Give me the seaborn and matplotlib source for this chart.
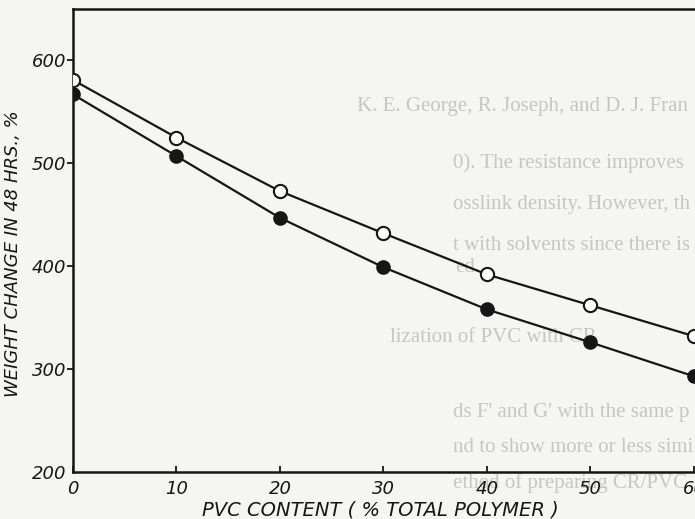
import matplotlib
matplotlib.use("Agg")
import matplotlib.pyplot as plt
import seaborn as sns
import pandas as pd

# ---- data ----
pvc_content = [0, 10, 20, 30, 40, 50, 60]
open_series = [581, 525, 473, 432, 392, 362, 332]     # open circles
filled_series = [567, 507, 447, 399, 358, 326, 293]   # filled circles
x_ticks = [0, 10, 20, 30, 40, 50, 60]
y_ticks = [200, 300, 400, 500, 600]
x_label = "PVC CONTENT ( % TOTAL POLYMER )"
y_label = "WEIGHT CHANGE IN 48 HRS., %"

# faint print-through text of the scanned page (as visible in the crop)
ghost_lines = [
    (357, 107, "K. E. George, R. Joseph, and D. J. Francis"),
    (453, 163, "0). The resistance improves further with ageing due to"),
    (453, 205, "osslink density. However, the blends are not suitable for"),
    (453, 245, "t with solvents since there is a chance of the plasticizer"),
    (455, 268, "ed."),
    (390, 337, "lization of PVC with CR"),
    (453, 412, "ds F' and G' with the same polymer compositions of blends"),
    (453, 447, "nd to show more or less similar physical properties. The sugg"),
    (453, 483, "ethod of preparing CR/PVC blends would actually suppleme"),
]

sns.set_theme(style="white")
plt.rcParams["font.family"] = ["DejaVu Sans"]

W, H = 695, 519
fig = plt.figure(figsize=(W / 100, H / 100), dpi=100)
paper = "#f5f5f3"
fig.patch.set_facecolor(paper)

left, right = 73 / W, 1.0
bottom, top = (H - 472) / H, (H - 9) / H
ax = fig.add_axes([left, bottom, right - left, top - bottom])
ax.set_facecolor("none")

ink = "#161616"
df = pd.DataFrame({
    "pvc": pvc_content * 2,
    "value": open_series + filled_series,
    "series": ["open"] * len(pvc_content) + ["filled"] * len(pvc_content),
})

sns.lineplot(data=df[df.series == "open"], x="pvc", y="value", ax=ax,
             color=ink, lw=1.6, marker="o", markersize=9.5,
             markerfacecolor="white", markeredgecolor=ink, markeredgewidth=1.5,
             zorder=3)
sns.lineplot(data=df[df.series == "filled"], x="pvc", y="value", ax=ax,
             color=ink, lw=1.6, marker="o", markersize=9.5,
             markerfacecolor=ink, markeredgecolor=ink, markeredgewidth=1.0,
             zorder=3)

ax.set_xlim(0, 60.1)
ax.set_ylim(200, 650)

for s in ["left", "bottom", "top"]:
    ax.spines[s].set_visible(True)
    ax.spines[s].set_color(ink)
    ax.spines[s].set_linewidth(1.8)
ax.spines["right"].set_visible(False)

ax.set_xticks(x_ticks)
ax.set_xticklabels([str(v) for v in x_ticks], fontstyle="italic", fontsize=13, color=ink)
ax.set_yticks(y_ticks)
ax.set_yticklabels([str(v) for v in y_ticks], fontstyle="italic", fontsize=13, color=ink)
ax.tick_params(axis="x", direction="in", length=4, width=1.3, color=ink, pad=6,
               bottom=True, top=False)
ax.tick_params(axis="y", direction="out", length=4, width=1.3, color=ink, pad=1,
               left=True, right=False)
ax.yaxis.get_major_ticks()[0].tick1line.set_visible(False)

ax.set_xlabel(x_label, fontstyle="italic", fontsize=14, color=ink)
ax.set_ylabel(y_label, fontstyle="italic", fontsize=13, color=ink)
ax.xaxis.set_label_coords((380 - 73) / (W - 73), -(500 - 472) / (472 - 9))
ax.yaxis.set_label_coords(-(73 - 22) / (W - 73), (472 - 254) / (472 - 9))

renderer = fig.canvas.get_renderer()
for gx, gy, txt in ghost_lines:
    t = ax.text(gx / W, 1 - gy / H, txt, transform=fig.transFigure,
                fontsize=15, family=["Liberation Serif", "DejaVu Serif"],
                color="#c6c6c4", va="center", ha="left", zorder=0.5)
    # keep only the part of the line that lies inside the scanned crop
    while t.get_window_extent(renderer).x1 > W - 1 and len(t.get_text()) > 1:
        t.set_text(t.get_text()[:-1].rstrip())

fig.savefig("out.png", dpi=100, facecolor=paper)
